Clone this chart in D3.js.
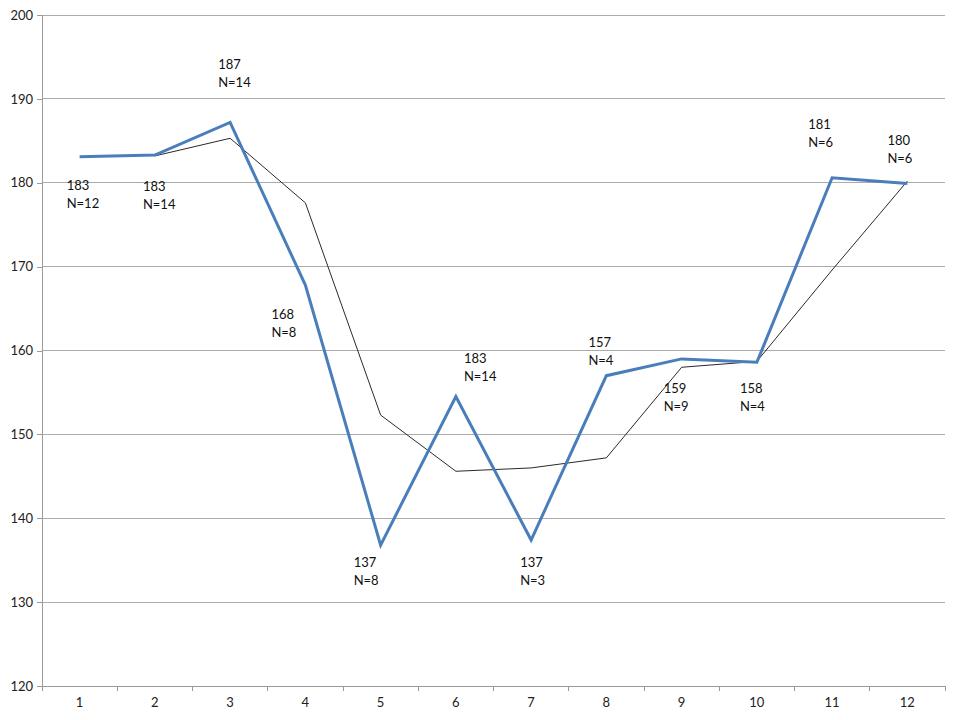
<!DOCTYPE html>
<html>
<head>
<meta charset="utf-8">
<script src="https://cdn.jsdelivr.net/npm/d3@7"></script>
<style>
  html, body { margin: 0; padding: 0; background: #fff; }
  svg { display: block; font-family: Lato, "Open Sans", sans-serif; }
</style>
</head>
<body>
<svg id="chart" width="960" height="720"></svg>
<script>
// ---- data ----
const categories = [1, 2, 3, 4, 5, 6, 7, 8, 9, 10, 11, 12];
const meanValues = [183.1, 183.3, 187.2, 167.8, 136.8, 154.5, 137.4, 157.0, 159.0, 158.6, 180.6, 179.9];
// thin trend line (2-period moving average as drawn in the picture; starts at category 2)
const trendCategories = [2, 3, 4, 5, 6, 7, 8, 9, 10, 11, 12];
const trendValues = [183.2, 185.3, 177.6, 152.3, 145.6, 146.0, 147.2, 158.0, 158.7, 169.6, 180.2];
const labelValues = ["183", "183", "187", "168", "137", "183", "137", "157", "159", "158", "181", "180"];
const labelN = ["N=12", "N=14", "N=14", "N=8", "N=8", "N=14", "N=3", "N=4", "N=9", "N=4", "N=6", "N=6"];
const yTicks = [120, 130, 140, 150, 160, 170, 180, 190, 200];

// ---- layout (label offsets from each point, px) ----
const labelOffsets = [[-13, 29], [-12, 31], [-12, -58], [-34, 29], [-27, 17], [8, -38],
                      [-11, 22], [-18, -33], [-18, 30], [-17, 26], [-24, -53], [-20, -43]];
const plotLeft = 42, plotRight = 945, plotTop = 15, plotBottom = 686;

const svg = d3.select("#chart");

const x = d3.scaleBand().domain(categories).range([plotLeft, plotRight]).padding(0);
const cx = c => x(c) + x.bandwidth() / 2;
const y = d3.scaleLinear().domain([120, 200]).range([plotBottom, plotTop]);

// gridlines
svg.append("g")
  .selectAll("line")
  .data(yTicks.filter(t => t !== 120))
  .join("line")
  .attr("x1", plotLeft).attr("x2", plotRight)
  .attr("y1", d => y(d)).attr("y2", d => y(d))
  .attr("stroke", "#ababab").attr("stroke-width", 1)
  .attr("shape-rendering", "crispEdges");

// y axis
const yAxis = svg.append("g")
  .attr("transform", `translate(${plotLeft},0)`)
  .call(d3.axisLeft(y).tickValues(yTicks).tickSize(5).tickPadding(4).tickFormat(d3.format("d")));
yAxis.selectAll("path, line").attr("stroke", "#9a9a9a").attr("shape-rendering", "crispEdges");
yAxis.selectAll("text").attr("font-size", 13).attr("fill", "#222").attr("font-family", "Lato, sans-serif");

// x axis
const xAxis = svg.append("g")
  .attr("transform", `translate(0,${plotBottom})`)
  .call(d3.axisBottom(x).tickSize(0).tickPadding(12).tickSizeOuter(0));
xAxis.select("path").attr("stroke", "#9a9a9a").attr("shape-rendering", "crispEdges");
xAxis.selectAll("text").attr("font-size", 13).attr("fill", "#222").attr("font-family", "Lato, sans-serif");
// boundary tick marks
const boundaries = categories.map(c => x(c)).concat([x(categories[categories.length - 1]) + x.bandwidth()]);
xAxis.selectAll("line.bt")
  .data(boundaries)
  .join("line")
  .attr("class", "bt")
  .attr("x1", d => d).attr("x2", d => d)
  .attr("y1", 0).attr("y2", 5)
  .attr("stroke", "#9a9a9a")
  .attr("shape-rendering", "crispEdges");

// trend line
const trendData = trendCategories.map((c, i) => ({ c, v: trendValues[i] }));
svg.append("path")
  .datum(trendData)
  .attr("fill", "none")
  .attr("stroke", "#2a2a2a")
  .attr("stroke-width", 1)
  .attr("d", d3.line().x(d => cx(d.c)).y(d => y(d.v)));

// main line
const mainData = categories.map((c, i) => ({ c, v: meanValues[i] }));
svg.append("path")
  .datum(mainData)
  .attr("fill", "none")
  .attr("stroke", "#4a7ebb")
  .attr("stroke-width", 3)
  .attr("stroke-linejoin", "miter")
  .attr("d", d3.line().x(d => cx(d.c)).y(d => y(d.v)));

// labels
const lbl = svg.append("g")
  .selectAll("text")
  .data(mainData)
  .join("text")
  .attr("font-size", 13)
  .attr("fill", "#111")
  .attr("font-family", "Lato, sans-serif");
lbl.append("tspan")
  .attr("x", (d, i) => cx(d.c) + labelOffsets[i][0])
  .attr("y", (d, i) => y(d.v) + labelOffsets[i][1])
  .attr("dy", "0.35em")
  .text((d, i) => labelValues[i]);
lbl.append("tspan")
  .attr("x", (d, i) => cx(d.c) + labelOffsets[i][0])
  .attr("y", (d, i) => y(d.v) + labelOffsets[i][1] + 18)
  .attr("dy", "0.35em")
  .text((d, i) => labelN[i]);
</script>
</body>
</html>
